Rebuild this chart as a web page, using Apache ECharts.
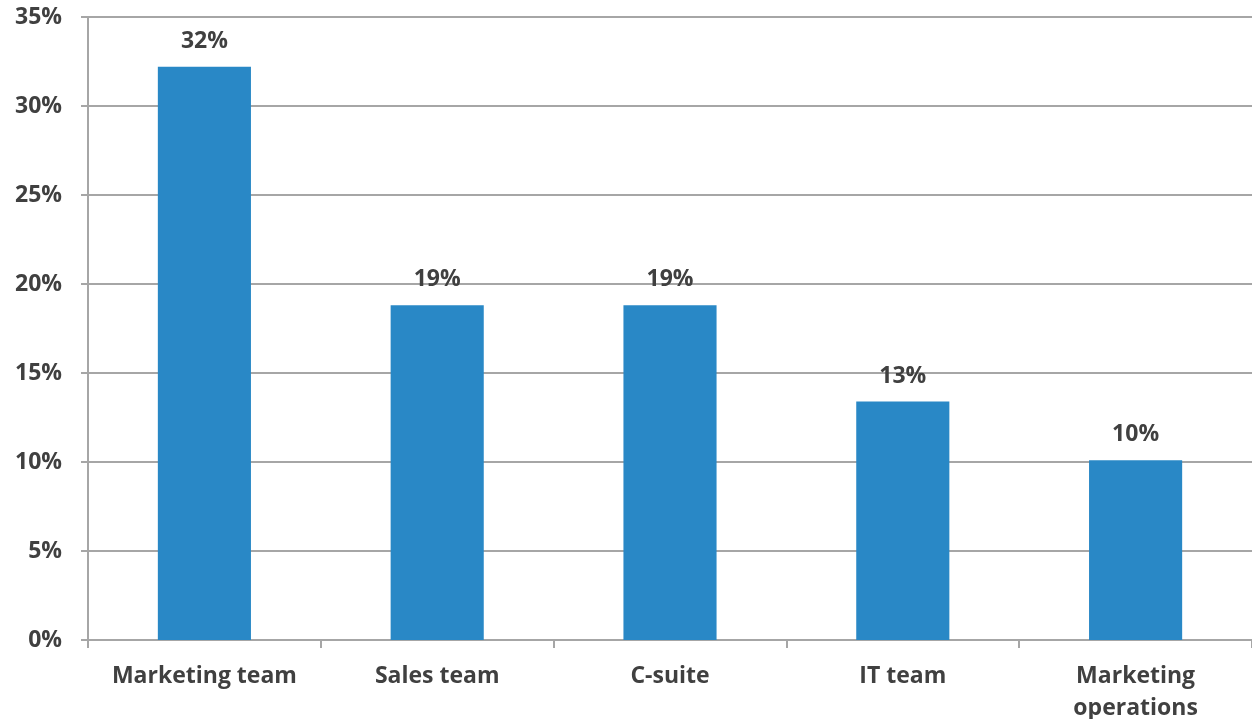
<!DOCTYPE html>
<html>
<head>
<meta charset="utf-8">
<style>
html,body{margin:0;padding:0;background:#fff;}
#chart{width:1252px;height:719px;}
</style>
<script src="https://cdn.jsdelivr.net/npm/echarts@6/dist/echarts.min.js"></script>
</head>
<body>
<div id="chart"></div>
<script>
const categories = ['Marketing team', 'Sales team', 'C-suite', 'IT team', 'Marketing\noperations'];
const values = [32.2, 18.8, 18.8, 13.4, 10.1];
const yTicks = [0, 5, 10, 15, 20, 25, 30, 35];

const FONT = 'Open Sans';
const TEXT = '#404040';
const GRID = '#a6a6a6';

const chart = echarts.init(document.getElementById('chart'));
chart.setOption({
  animation: false,
  grid: { left: 88, right: 0, top: 17, bottom: 79, containLabel: false, outerBoundsMode: 'none' },
  xAxis: {
    type: 'category',
    data: categories,
    axisLine: { lineStyle: { color: GRID, width: 2 } },
    axisTick: { show: true, alignWithLabel: false, length: 8, lineStyle: { color: GRID, width: 2 } },
    axisLabel: { color: TEXT, fontFamily: FONT, fontWeight: 'bold', fontSize: 23, margin: 20, lineHeight: 32, interval: 0 }
  },
  yAxis: {
    type: 'value',
    min: yTicks[0],
    max: yTicks[yTicks.length - 1],
    interval: 5,
    axisLine: { show: true, lineStyle: { color: GRID, width: 2 } },
    axisTick: { show: true, length: 7, lineStyle: { color: GRID, width: 2 } },
    splitLine: { show: true, lineStyle: { color: GRID, width: 2 } },
    axisLabel: { color: TEXT, fontFamily: FONT, fontWeight: 'bold', fontSize: 23, margin: 26, formatter: v => v + '%' }
  },
  series: [{
    type: 'bar',
    data: values,
    barWidth: '40%',
    itemStyle: { color: '#2988c6' },
    label: {
      show: true,
      position: 'top',
      distance: 14,
      color: TEXT,
      fontFamily: FONT,
      fontWeight: 'bold',
      fontSize: 23,
      formatter: p => Math.round(p.value) + '%'
    }
  }]
});
</script>
</body>
</html>
